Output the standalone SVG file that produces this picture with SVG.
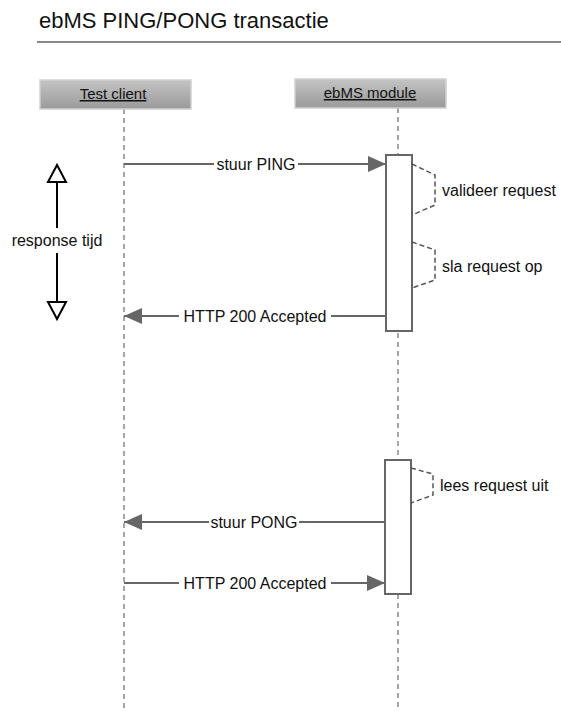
<svg xmlns="http://www.w3.org/2000/svg" width="561" height="711" viewBox="0 0 561 711">
<defs>
<linearGradient id="hdr" x1="0" y1="0" x2="0" y2="1">
<stop offset="0" stop-color="#c4c4c4"/>
<stop offset="1" stop-color="#9a9a9a"/>
</linearGradient>
<marker id="ah" viewBox="0 0 18 16" refX="18" refY="8" markerWidth="18" markerHeight="16" markerUnits="userSpaceOnUse" orient="auto">
<path d="M0,0 L18,8 L0,16 Z" fill="#666"/>
</marker>
</defs>
<style>
text{font-family:"Liberation Sans",Arial,sans-serif;fill:#111}
.lbl{font-size:16px}
.hdr{font-size:15px;text-decoration:underline}
.hbox{fill:url(#hdr);stroke:#d0d0d0;stroke-width:1.5}
.life{stroke:#888;stroke-width:1.5;stroke-dasharray:5 4;fill:none}
.act{fill:#fff;stroke:#666;stroke-width:2}
.msg{stroke:#666;stroke-width:2;fill:none;marker-end:url(#ah)}
.self{stroke:#555;stroke-width:1.5;stroke-dasharray:5 3;fill:none}
.bg{fill:#fff}
</style>
<rect width="561" height="711" fill="#fff"/>
<g id="title">
<text x="39" y="28" style="font-size:22px">ebMS PING/PONG transactie</text>
<line x1="37" y1="42" x2="561" y2="42" stroke="#888" stroke-width="2"/>
</g>
<g id="lifelines">
<line class="life" x1="124" y1="109" x2="124" y2="711"/>
<line class="life" x1="398" y1="108" x2="398" y2="711"/>
</g>
<g id="test-client">
<rect class="hbox" x="40" y="80" width="151" height="29"/>
<text class="hdr" x="113" y="99" text-anchor="middle">Test client</text>
</g>
<g id="ebms-module">
<rect class="hbox" x="295" y="79" width="151" height="29"/>
<text class="hdr" x="370" y="98" text-anchor="middle">ebMS module</text>
</g>
<g id="activation-1"><rect class="act" x="386" y="155" width="26" height="176"/></g>
<g id="activation-2"><rect class="act" x="385" y="460" width="26" height="134"/></g>
<g id="connectors">
<line class="msg" x1="124" y1="164" x2="386" y2="164"/>
<line class="msg" x1="386" y1="316" x2="124" y2="316"/>
<line class="msg" x1="385" y1="522" x2="124" y2="522"/>
<line class="msg" x1="124" y1="583" x2="385" y2="583"/>
<polyline class="self" points="412,164 435,175 435,205 412,215"/>
<polyline class="self" points="412,242 435,250 435,280 412,288"/>
<polyline class="self" points="411,468 433,474 433,495 411,503"/>
</g>
<g id="labels">
<rect class="bg" x="214" y="155" width="84" height="18"/>
<text class="lbl" x="256" y="170" text-anchor="middle">stuur PING</text>
<rect class="bg" x="179" y="307" width="152" height="18"/>
<text class="lbl" x="255" y="322" text-anchor="middle">HTTP 200 Accepted</text>
<rect class="bg" x="209" y="513" width="90" height="18"/>
<text class="lbl" x="254" y="528" text-anchor="middle">stuur PONG</text>
<rect class="bg" x="179" y="574" width="152" height="18"/>
<text class="lbl" x="255" y="589" text-anchor="middle">HTTP 200 Accepted</text>
<text class="lbl" x="442" y="196">valideer request</text>
<text class="lbl" x="442" y="272">sla request op</text>
<text class="lbl" x="440" y="491">lees request uit</text>
</g>
<g id="response-tijd">
<line x1="57" y1="182" x2="57" y2="228" stroke="#000" stroke-width="2"/>
<polygon points="57,165 48,182 66,182" fill="#fff" stroke="#000" stroke-width="2"/>
<line x1="57" y1="253" x2="57" y2="302" stroke="#000" stroke-width="2"/>
<polygon points="57,319 48,302 66,302" fill="#fff" stroke="#000" stroke-width="2"/>
<text class="lbl" x="57" y="246" text-anchor="middle">response tijd</text>
</g>
</svg>
